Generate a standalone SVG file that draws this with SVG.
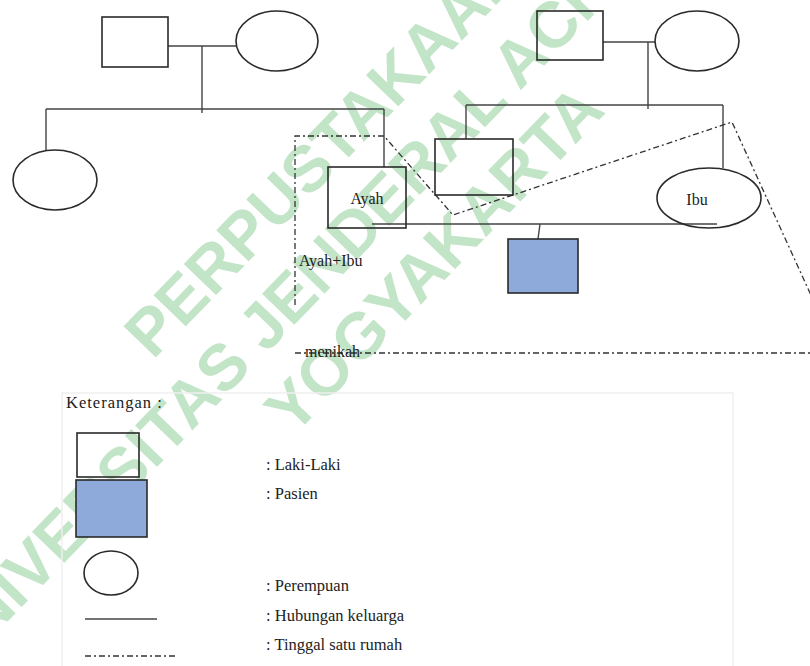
<svg xmlns="http://www.w3.org/2000/svg" width="810" height="666" viewBox="0 0 810 666">
<defs>
<style>
.sh{fill:none;stroke:#2a2a2a;stroke-width:1.6}
.pt{fill:#8eaadb;stroke:#2a2a2a;stroke-width:1.6}
.ln{fill:none;stroke:#444;stroke-width:1.4}
.dd{fill:none;stroke:#333;stroke-width:1.3;stroke-dasharray:6 3 2 3}
.t{font-family:"Liberation Serif","Times New Roman",serif;font-size:16px;fill:#222}
.lg{font-family:"Liberation Serif","Times New Roman",serif;font-size:16.5px;fill:#222}
.wm{font-family:"Liberation Sans",Arial,sans-serif;font-weight:bold;font-size:65px;fill:#c2e4c7;text-anchor:middle}
</style>
</defs>
<rect width="810" height="666" fill="#ffffff"/>
<g id="watermark" class="wm" transform="translate(378,205) rotate(-46)">
<text x="0" y="-54">PERPUSTAKAAN</text>
<text x="0" y="23">UNIVERSITAS JENDERAL ACHMAD YANI</text>
<text x="0" y="100">YOGYAKARTA</text>
</g>
<g id="connectors">
<path class="ln" d="M168,46 H236 M202,46 V113 M46,109 H384 M46,109 V150 M384,109 V167"/>
<path class="ln" d="M603,42 H655 M648,42 V109 M466,105 H723 M466,105 V139 M723,105 V168"/>
<path class="ln" d="M372,224 H717 M540,224 L538,239"/>
<path class="dd" d="M295,305 V136 H384 L453,215 L732,122 L815,304"/>
<path class="dd" d="M295,353 H810"/>
</g>
<g id="gp1-male"><rect class="sh" x="102" y="17" width="66" height="50"/></g>
<g id="gp1-female"><ellipse class="sh" cx="277" cy="41" rx="41" ry="30"/></g>
<g id="aunt"><ellipse class="sh" cx="55" cy="180" rx="42" ry="30"/></g>
<g id="ayah"><rect class="sh" x="328" y="167" width="78" height="61"/><text class="t" x="367" y="204" text-anchor="middle">Ayah</text></g>
<g id="gp2-male"><rect class="sh" x="537" y="11" width="66" height="49"/></g>
<g id="gp2-female"><ellipse class="sh" cx="697" cy="41" rx="42" ry="30"/></g>
<g id="uncle"><rect class="sh" x="435" y="139" width="78" height="56"/></g>
<g id="ibu"><ellipse class="sh" cx="709" cy="198" rx="52" ry="30"/><text class="t" x="697" y="205" text-anchor="middle">Ibu</text></g>
<g id="patient"><rect class="pt" x="508" y="239" width="70" height="54"/></g>
<g id="household-label"><text class="t" x="299" y="266">Ayah+Ibu</text></g>
<g id="menikah-label"><text class="t" x="305" y="357">menikah</text></g>
<g id="legend">
<rect x="62" y="393" width="671" height="280" fill="none" stroke="#f0f0f0" stroke-width="1.5"/>
<text class="lg" x="66" y="408" letter-spacing="1">Keterangan :</text>
<rect class="sh" x="77" y="433" width="62" height="44"/>
<rect class="pt" x="76" y="480" width="71" height="57"/>
<ellipse class="sh" cx="111" cy="573" rx="27" ry="22"/>
<path class="ln" d="M85,619 H157"/>
<path class="dd" d="M85,656 H175"/>
<text class="lg" x="266" y="470">: Laki-Laki</text>
<text class="lg" x="266" y="499">: Pasien</text>
<text class="lg" x="266" y="591">: Perempuan</text>
<text class="lg" x="266" y="621">: Hubungan keluarga</text>
<text class="lg" x="266" y="650">: Tinggal satu rumah</text>
</g>
</svg>
